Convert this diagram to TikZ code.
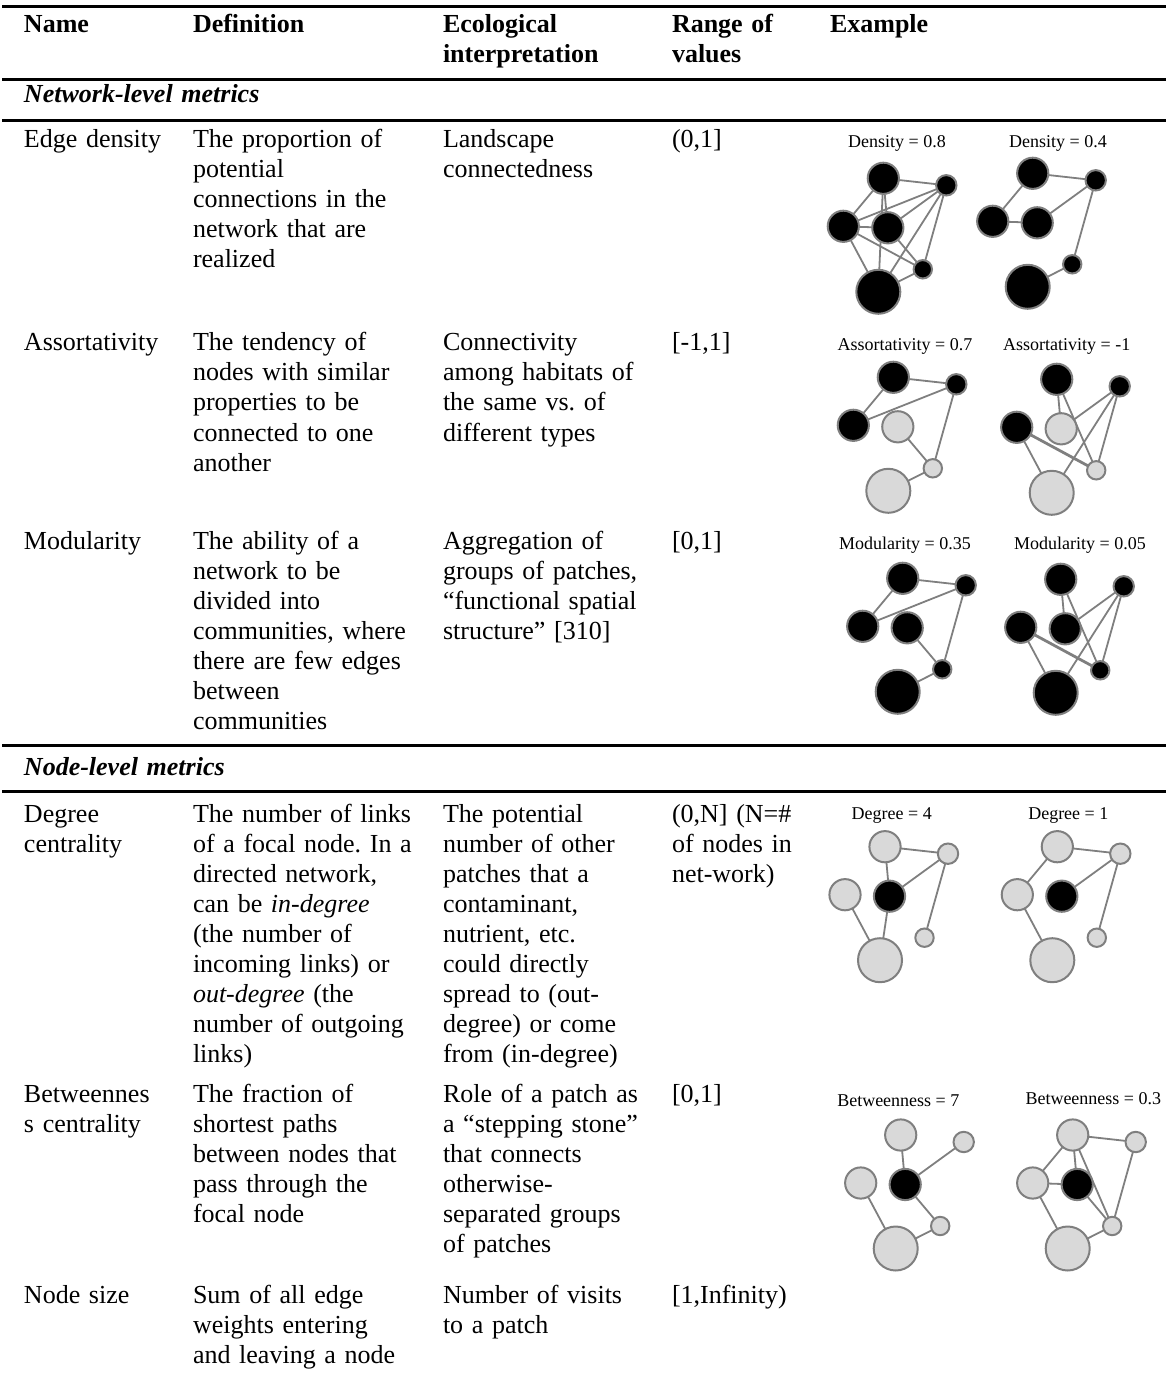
\documentclass[tikz,border=0pt]{standalone}
\usepackage{fontspec}
\setmainfont{Liberation Serif}
\usetikzlibrary{backgrounds}
\frenchspacing
\definecolor{edgegray}{HTML}{7F7F7F}
\definecolor{lightfill}{HTML}{D9D9D9}
\newcommand\netgraph[8]{%
  \begin{scope}[shift={#2}]
    \node[gbig, fill=#3] (#1A) at (0,0) {};
    \node[gmid, fill=#4] (#1B) at (63,7) {};
    \node[gbig, fill=#5] (#1C) at (-40,48) {};
    \node[gbig, fill=#6] (#1D) at (4.5,49.5) {};
    \node[gsmall, fill=#7] (#1E) at (39.5,91) {};
    \node[ghuge, fill=#8] (#1F) at (-5,113.5) {};
  \end{scope}}
\newcommand\netedges[2]{%
  \begin{scope}[on background layer]
    \foreach \u/\v in {#2} { \draw[ge] (#1\u) -- (#1\v); }
  \end{scope}}
\newcommand\netheavy[3]{%
  \begin{scope}[on background layer]
    \draw[gew] (#1#2) -- (#1#3);
  \end{scope}}
\begin{document}
\begin{tikzpicture}[x=0.5pt,y=-0.5pt,
  cell/.style={anchor=base west, inner sep=0pt, outer sep=0pt, text width=150pt, align=left, font=\fontsize{13}{15}\selectfont},
  headcell/.style={cell, font=\fontsize{13}{15}\selectfont\bfseries},
  sectcell/.style={cell, text width=250pt, font=\fontsize{13}{15}\selectfont\bfseries\itshape},
  rule/.style={line width=1.5pt},
  glabel/.style={anchor=base, inner sep=0pt, font=\fontsize{9}{10}\selectfont},
  gn/.style={circle, draw=edgegray, line width=1pt, inner sep=0pt, outer sep=0pt},
  gbig/.style={gn, minimum size=15.6pt},
  gmid/.style={gn, minimum size=10.2pt},
  gsmall/.style={gn, minimum size=9.2pt},
  ghuge/.style={gn, minimum size=22pt},
  ge/.style={draw=edgegray, line width=0.9pt},
  gew/.style={draw=edgegray, line width=1.4pt},
]
\useasboundingbox (0,0) rectangle (1171,1379);

% rules
\draw[rule] (2,7) -- (1166,7);
\draw[rule] (2,80) -- (1166,80);
\draw[rule] (2,121) -- (1166,121);
\draw[rule] (2,745) -- (1166,745);
\draw[rule] (2,791) -- (1166,791);

% header
\node[headcell] (hName) at (24,33) {Name};
\node[headcell] (hDef) at (193,33) {Definition};
\node[headcell] (hEco) at (443,33) {Ecological\\interpretation};
\node[headcell] (hRange) at (672,33) {Range of\\values};
\node[headcell] (hEx) at (830,33) {Example};

\node[sectcell] (secNet) at (24,103) {Network-level metrics};

% Edge density
\node[cell] (n1) at (24,148) {Edge density};
\node[cell] (d1) at (193,148) {The proportion of\\potential\\connections in the\\network that are\\realized};
\node[cell] (e1) at (443,148) {Landscape\\connectedness};
\node[cell] (r1) at (672,148) {(0,1]};

% Assortativity
\node[cell] (n2) at (24,351) {Assortativity};
\node[cell] (d2) at (193,351) {The tendency of\\nodes with similar\\properties to be\\connected to one\\another};
\node[cell] (e2) at (443,351) {Connectivity\\among habitats of\\the same vs. of\\different types};
\node[cell] (r2) at (672,351) {[-1,1]};

% Modularity
\node[cell] (n3) at (24,549) {Modularity};
\node[cell] (d3) at (193,549) {The ability of a\\network to be\\divided into\\communities, where\\there are few edges\\between\\communities};
\node[cell] (e3) at (443,549) {Aggregation of\\groups of patches,\\“functional spatial\\structure” [310]};
\node[cell] (r3) at (672,549) {[0,1]};

\node[sectcell] (secNode) at (24,775) {Node-level metrics};

% Degree
\node[cell] (n4) at (24,822) {Degree\\centrality};
\node[cell] (d4) at (193,822) {The number of links\\of a focal node. In a\\directed network,\\can be \textit{in-degree}\\(the number of\\incoming links) or\\\textit{out-degree} (the\\number of outgoing\\links)};
\node[cell] (e4) at (443,822) {The potential\\number of other\\patches that a\\contaminant,\\nutrient, etc.\\could directly\\spread to (out-\\degree) or come\\from (in-degree)};
\node[cell] (r4) at (672,822) {(0,N] (N=\#\\of nodes in\\net-work)};

% Betweenness
\node[cell] (n5) at (24,1102) {Betweennes\\s centrality};
\node[cell] (d5) at (193,1102) {The fraction of\\shortest paths\\between nodes that\\pass through the\\focal node};
\node[cell] (e5) at (443,1102) {Role of a patch as\\a “stepping stone”\\that connects\\otherwise-\\separated groups\\of patches};
\node[cell] (r5) at (672,1102) {[0,1]};

% Node size
\node[cell] (n6) at (24,1303) {Node size};
\node[cell] (d6) at (193,1303) {Sum of all edge\\weights entering\\and leaving a node};
\node[cell] (e6) at (443,1303) {Number of visits\\to a patch};
\node[cell] (r6) at (672,1303) {[1,Infinity)};

% ---------- example graphs ----------
% density
\node[glabel] (lDl) at (897,148) {Density = 0.8};
\node[glabel] (lDr) at (1058,148) {Density = 0.4};
\netgraph{dl}{(883.3,178.3)}{black}{black}{black}{black}{black}{black}
\netedges{dl}{A/B,A/C,A/D,A/F,C/B,D/B,B/E,F/B,C/D,C/E,D/E,C/F,E/F}
\netgraph{dr}{(1032.7,173.3)}{black}{black}{black}{black}{black}{black}
\netedges{dr}{A/B,A/C,C/D,D/B,B/E,E/F}

% assortativity
\node[glabel] (lAl) at (905,351) {Assortativity = 0.7};
\node[glabel] (lAr) at (1066.7,351) {Assortativity = -1};
\netgraph{al}{(893.3,377.3)}{black}{black}{black}{lightfill}{lightfill}{lightfill}
\netedges{al}{A/B,A/C,C/B,D/E,B/E,E/F}
\netgraph{ar}{(1056.7,379.3)}{black}{black}{black}{lightfill}{lightfill}{lightfill}
\netedges{ar}{A/D,A/E,B/D,B/F,B/E,C/F}
\netheavy{ar}{C}{E}

% modularity
\node[glabel] (lMl) at (905,549) {Modularity = 0.35};
\node[glabel] (lMr) at (1080,549) {Modularity = 0.05};
\netgraph{ml}{(902.7,578.3)}{black}{black}{black}{black}{black}{black}
\netedges{ml}{A/B,A/C,C/B,D/E,B/E,E/F}
\netgraph{mr}{(1060.7,579.3)}{black}{black}{black}{black}{black}{black}
\netedges{mr}{A/D,A/E,B/D,B/F,B/E,C/F}
\netheavy{mr}{C}{E}

% degree
\node[glabel] (lGl) at (891.7,819) {Degree = 4};
\node[glabel] (lGr) at (1068.3,819) {Degree = 1};
\netgraph{gl}{(885,846.7)}{lightfill}{lightfill}{lightfill}{black}{lightfill}{lightfill}
\netedges{gl}{A/B,A/D,D/B,D/F,C/F,B/E}
\netgraph{gr}{(1057.3,846.7)}{lightfill}{lightfill}{lightfill}{black}{lightfill}{lightfill}
\netedges{gr}{A/B,A/C,D/B,C/F,B/E}

% betweenness
\node[glabel] (lBl) at (898.3,1106) {Betweenness = 7};
\node[glabel] (lBr) at (1093.3,1104) {Betweenness = 0.3};
\netgraph{bl}{(900.7,1135)}{lightfill}{lightfill}{lightfill}{black}{lightfill}{lightfill}
\netedges{bl}{A/D,D/B,D/E,C/F,E/F}
\netgraph{br}{(1072.7,1135)}{lightfill}{lightfill}{lightfill}{black}{lightfill}{lightfill}
\netedges{br}{A/B,A/C,A/D,A/E,C/D,C/F,D/E,B/E,E/F}
\end{tikzpicture}
\end{document}
